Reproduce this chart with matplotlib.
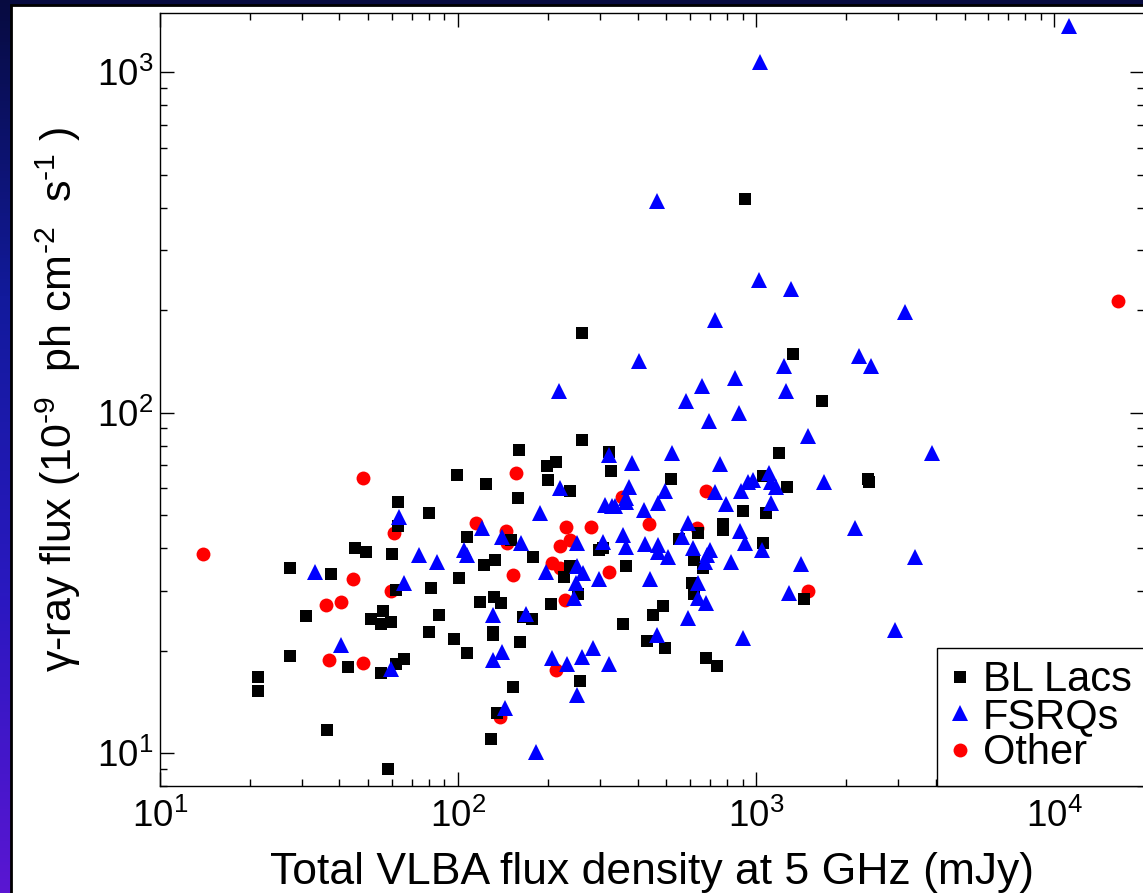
import numpy as np
import matplotlib
matplotlib.use('Agg')
import matplotlib.pyplot as plt
from matplotlib.colors import LinearSegmentedColormap
from matplotlib.lines import Line2D
import matplotlib.patches as patches

plt.rcParams['font.family'] = ['Liberation Sans', 'DejaVu Sans']
plt.rcParams['mathtext.fontset'] = 'custom'
plt.rcParams['mathtext.rm'] = 'Liberation Sans'
plt.rcParams['mathtext.it'] = 'Liberation Sans:italic'
plt.rcParams['mathtext.bf'] = 'Liberation Sans:bold'

# BL Lacs (VLBA flux mJy, gamma-ray flux 1e-9 ph cm-2 s-1)
bl_x = [21.3, 21.3, 27.2, 27.2, 31, 36.3, 37.4, 42.7, 45, 49, 51, 56, 55, 59.5, 55, 58,
        60, 62, 62, 63, 63, 66, 80, 80, 81, 86, 97, 99, 101, 107, 107, 118, 122, 124,
        129, 131, 131, 132, 133, 135, 139, 151, 153, 159, 160, 161, 165, 177, 179, 198,
        201, 205, 213, 226, 238, 238, 253, 256, 260, 261, 296, 306, 321, 327, 358, 367,
        429, 450, 486, 495, 518, 552, 609, 618, 620, 640, 665, 681, 738, 774, 774, 902,
        920, 1058, 1058, 1080, 1197, 1268, 1334, 1452, 1662, 2380, 2390]
bl_y = [16.7, 15.2, 34.9, 19.3, 25.3, 11.7, 33.6, 17.9, 40, 38.9, 24.7, 26.1, 24.0, 24.3, 17.2, 9.0,
        38.4, 30.1, 18.3, 54.7, 46.4, 18.9, 50.6, 22.6, 30.5, 25.4, 21.6, 65.5, 32.7, 43, 19.7, 27.8, 35.7, 61.7,
        11.0, 22.7, 22.2, 28.7, 36.8, 13.1, 27.6, 42.2, 15.6, 56.2, 77.6, 21.2, 25.1, 24.7, 37.6, 69.7,
        63.4, 27.4, 71.7, 32.9, 58.7, 35.5, 29.4, 16.3, 171, 83, 39.6, 39.9, 76.7, 67.5, 23.9, 35.5,
        21.4, 25.4, 27.0, 20.3, 63.8, 42.4, 31.5, 29.4, 36.9, 44.2, 34.9, 19.0, 18.0, 47.1, 45.2, 51.4,
        425, 65, 41.5, 50.6, 76, 60.3, 149, 28.3, 108, 64, 62.5]

# FSRQs
fsrq_x = [33, 40.5, 59.5, 63.5, 66, 74, 85, 105, 107, 120, 131, 131, 140, 140, 144, 163, 169,
          183, 188, 197, 207, 218, 220, 232, 244, 248, 250, 250, 250, 260, 263, 284, 298, 307,
          311, 322, 321, 328, 337, 358, 366, 367, 367, 375, 383, 405, 421, 424, 441, 465, 466,
          469, 469, 469, 494, 508, 521, 563, 581, 592, 592, 612, 638, 640, 657, 674, 678, 683,
          694, 701, 729, 729, 759, 794, 826, 848, 876, 882, 891, 902, 920, 942, 972, 1023,
          1031, 1050, 1108, 1120, 1123, 1167, 1242, 1255, 1293, 1310, 1412, 1498, 1683, 2140,
          2220, 2430, 2930, 3160, 3400, 3900, 11200]
fsrq_y = [34, 20.8, 17.7, 49.4, 31.5, 38.2, 36.5, 39.6, 38.2, 45.9, 25.4, 18.7, 19.8, 43.2, 13.6, 41.3, 25.6,
          10.1, 50.6, 34.1, 19.0, 116, 60, 18.3, 28.5, 31.5, 41.5, 35.5, 14.8, 19.2, 33.7, 20.3, 32.4, 41.7,
          53.5, 18.3, 75, 53, 53, 43.7, 40.4, 56, 54.7, 60.5, 71, 142, 51.7, 41, 32.5, 418, 22.2,
          54.3, 40.8, 39.0, 59, 37.7, 76, 43.0, 108, 47.5, 25, 39.9, 31.5, 28.5, 120, 36.5, 27.6, 38.2,
          94.6, 39.6, 58.5, 187, 70.5, 54, 36.5, 126, 100, 45, 59, 21.7, 41.3, 62.6, 63.4, 245,
          1072, 39.6, 66.3, 62.6, 54.3, 60.5, 137, 116, 29.6, 230, 36, 85.5, 62.4, 45.7,
          147, 137, 23, 197, 37.7, 76, 1365]

# Other
oth_x = [13.9, 36, 37, 40.5, 44.5, 48, 48, 59.5, 61, 115, 138, 145, 146, 153, 157, 207, 213,
         220, 220, 229, 230, 238, 280, 322, 354, 436, 631, 680, 1498, 16300]
oth_y = [38.3, 27.2, 18.8, 27.8, 32.4, 64.4, 18.4, 29.9, 44.2, 47.5, 12.8, 45, 41.3, 33.3, 66.6, 36.2, 17.5,
         40.6, 35, 28.2, 46.2, 42.2, 46.1, 34, 56.4, 47.1, 45.7, 58.8, 30, 213]

W, H = 1143, 893
fig = plt.figure(figsize=(W / 100, H / 100), dpi=100)

# slide background: gradient strip on the left/top, white panel with black edge
bg = fig.add_axes([0, 0, 1, 1])
cmap = LinearSegmentedColormap.from_list('slide', ['#070b40', '#121a9c', '#2a18c0', '#5a16d2'])
grad = np.linspace(0, 1, 256).reshape(-1, 1)
bg.imshow(grad, aspect='auto', extent=[0, 1, 0, 1], cmap=cmap, origin='upper')
bg.add_patch(patches.Rectangle((11 / W, -0.01), 1.0, 1 - 4.5 / H + 0.01, transform=bg.transAxes,
                               facecolor='white', edgecolor='black', linewidth=2))
bg.set_xlim(0, 1)
bg.set_ylim(0, 1)
bg.axis('off')

ax = fig.add_axes([160 / W, 107 / H, 984 / W, 773.3 / H])
ax.set_xscale('log')
ax.set_yscale('log')

ax.plot(oth_x, oth_y, 'o', color='red', markersize=10, markeredgewidth=0, linestyle='none')
ax.plot(bl_x, bl_y, 's', color='black', markersize=8.6, markeredgewidth=0, linestyle='none')
ax.plot(fsrq_x, fsrq_y, '^', color='blue', markersize=11.5, markeredgewidth=0, linestyle='none')

ax.set_xlim(10, 2.0e4)
ax.set_ylim(8.0, 1494)

ax.tick_params(which='both', direction='in', top=True, right=True, width=1, colors='black')
ax.tick_params(which='major', length=10, labelsize=26.5)
ax.tick_params(which='minor', length=5)
ax.tick_params(axis='x', which='major', pad=9)
ax.tick_params(axis='y', which='major', pad=5)
for s in ax.spines.values():
    s.set_linewidth(1.0)

ax.set_xlabel('Total VLBA flux density at 5 GHz (mJy)', fontsize=32)
ax.xaxis.set_label_coords(0.5, -0.085)
ax.set_ylabel(r'γ-ray flux (10$^{\text{-9}}$  ph cm$^{\text{-2}}$  s$^{\text{-1}}$ )', fontsize=31)
ax.yaxis.set_label_coords(-0.078, 0.5)

handles = [
    Line2D([], [], marker='s', color='black', markersize=8.6, markeredgewidth=0, linestyle='none'),
    Line2D([], [], marker='^', color='blue', markersize=11.5, markeredgewidth=0, linestyle='none'),
    Line2D([], [], marker='o', color='red', markersize=10, markeredgewidth=0, linestyle='none'),
]
leg = ax.legend(handles, ['BL Lacs', 'FSRQs', 'Other'], loc='lower right', fontsize=30,
                borderaxespad=0, fancybox=False, framealpha=1, edgecolor='black',
                handlelength=0.5, handletextpad=0.3, borderpad=0.3, labelspacing=-0.08)
leg.get_frame().set_linewidth(1.0)

fig.savefig('out.png', dpi=100)
